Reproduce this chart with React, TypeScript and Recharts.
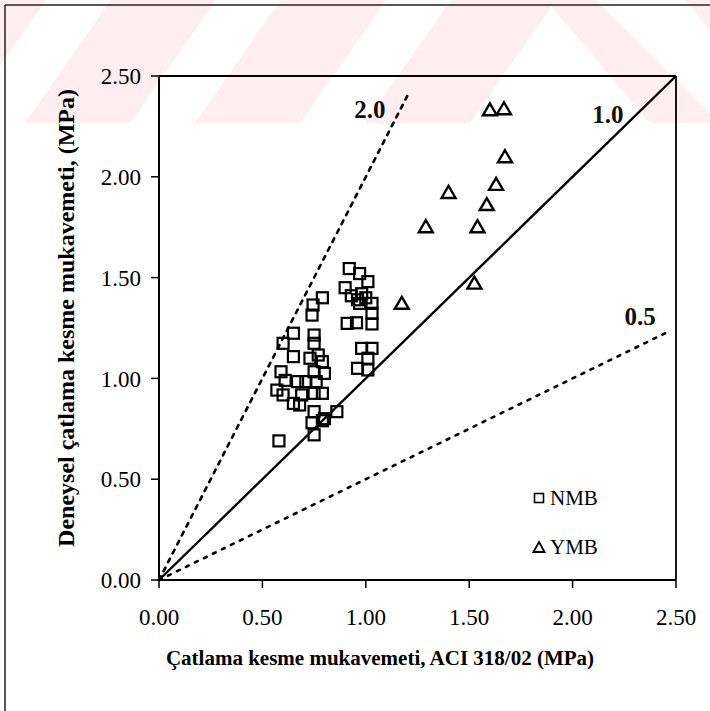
import React from 'react';
import { ScatterChart, Scatter, XAxis, YAxis, ReferenceLine } from 'recharts';

// ---- data ----
const axisTicks = [0, 0.5, 1, 1.5, 2, 2.5];

const nmbPoints = [
  { x: 0.58, y: 0.69 }, { x: 0.75, y: 0.72 }, { x: 0.74, y: 0.78 }, { x: 0.79, y: 0.79 },
  { x: 0.8, y: 0.8 }, { x: 0.86, y: 0.835 }, { x: 0.75, y: 0.835 }, { x: 0.65, y: 0.876 },
  { x: 0.68, y: 0.868 }, { x: 0.57, y: 0.942 }, { x: 0.6, y: 0.918 }, { x: 0.69, y: 0.918 },
  { x: 0.75, y: 0.926 }, { x: 0.79, y: 0.926 }, { x: 0.61, y: 0.99 }, { x: 0.67, y: 0.984 },
  { x: 0.71, y: 0.984 }, { x: 0.76, y: 0.984 }, { x: 0.59, y: 1.033 }, { x: 0.75, y: 1.033 },
  { x: 0.8, y: 1.025 }, { x: 0.96, y: 1.05 }, { x: 1.01, y: 1.042 }, { x: 0.65, y: 1.108 },
  { x: 0.73, y: 1.1 }, { x: 0.77, y: 1.116 }, { x: 0.79, y: 1.083 }, { x: 1.01, y: 1.1 },
  { x: 0.98, y: 1.149 }, { x: 1.03, y: 1.149 }, { x: 0.6, y: 1.174 }, { x: 0.75, y: 1.174 },
  { x: 0.65, y: 1.224 }, { x: 0.75, y: 1.215 }, { x: 0.91, y: 1.273 }, { x: 0.955, y: 1.276 },
  { x: 1.03, y: 1.27 }, { x: 0.74, y: 1.314 }, { x: 0.745, y: 1.364 }, { x: 0.97, y: 1.372 },
  { x: 1.03, y: 1.372 }, { x: 1.03, y: 1.323 }, { x: 0.79, y: 1.4 }, { x: 0.92, y: 1.545 },
  { x: 0.97, y: 1.52 }, { x: 0.9, y: 1.45 }, { x: 1.01, y: 1.48 }, { x: 0.93, y: 1.41 },
  { x: 0.96, y: 1.39 }, { x: 1.0, y: 1.4 }, { x: 0.98, y: 1.42 },
];

const ymbPoints = [
  { x: 1.6, y: 2.33 }, { x: 1.668, y: 2.335 }, { x: 1.673, y: 2.097 }, { x: 1.63, y: 1.96 },
  { x: 1.4, y: 1.92 }, { x: 1.585, y: 1.86 }, { x: 1.29, y: 1.75 }, { x: 1.54, y: 1.75 },
  { x: 1.525, y: 1.47 }, { x: 1.174, y: 1.37 },
];

const ratioLines = [
  { ratio: 2.0, endX: 1.2, dash: '4 6' },
  { ratio: 1.0, endX: 2.5, dash: undefined },
  { ratio: 0.5, endX: 2.45, dash: '3 7' },
];

const lineLabels = [
  { x: 1.02, y: 2.336, text: '2.0' },
  { x: 2.17, y: 2.31, text: '1.0' },
  { x: 2.326, y: 1.305, text: '0.5' },
];

const legendItems = ['NMB', 'YMB'];

const xTitle = 'Çatlama kesme mukavemeti, ACI 318/02 (MPa)';
const yTitle = 'Deneysel çatlama kesme mukavemeti, (MPa)';

// ---- styles ----
const FONT = "'Liberation Serif', 'Times New Roman', serif";

const SquareShape = (props: any) => {
  const { cx, cy } = props;
  if (cx == null || cy == null) return null;
  return <rect x={cx - 5.5} y={cy - 5.5} width={11} height={11} fill="none" stroke="#000" strokeWidth={2.2} />;
};

const TriangleShape = (props: any) => {
  const { cx, cy } = props;
  if (cx == null || cy == null) return null;
  return (
    <polygon
      points={`${cx},${cy - 7} ${cx + 7},${cy + 5} ${cx - 7},${cy + 5}`}
      fill="none"
      stroke="#000"
      strokeWidth={2.4}
    />
  );
};

const LabelShape = (props: any) => {
  const { cx, cy, payload } = props;
  if (cx == null || cy == null) return null;
  return (
    <text x={cx} y={cy} textAnchor="middle" dominantBaseline="central" fontFamily={FONT} fontWeight="bold" fontSize={25} fill="#111">
      {payload.text}
    </text>
  );
};

const LegendMarker = ({ kind }: { kind: number }) => (
  <svg width={14} height={14} style={{ marginRight: 4 }}>
    {kind === 0 ? (
      <rect x={2.5} y={2.5} width={9} height={9} fill="none" stroke="#000" strokeWidth={1.6} />
    ) : (
      <polygon points="7,2 12.5,12 1.5,12" fill="none" stroke="#000" strokeWidth={1.8} />
    )}
  </svg>
);

const ChartLegend = () => (
  <div style={{ position: 'absolute', left: 532, top: 485, fontFamily: FONT, fontSize: 21, color: '#000' }}>
    {legendItems.map((name, i) => (
      <div key={name} style={{ display: 'flex', alignItems: 'center', height: 26, marginBottom: i === 0 ? 23 : 0 }}>
        <LegendMarker kind={i} />
        <span>{name}</span>
      </div>
    ))}
  </div>
);

const Watermark = () => {
  const pink = '#feeef2';
  const starts = [-145, 25, 195, 365];
  return (
    <svg width={710} height={711} style={{ position: 'absolute', left: 0, top: 0 }}>
      {starts.map((s, i) => (
        <polygon key={i} points={`${s + 86},0 ${s + 191},0 ${s + 105},123 ${s},123`} fill={pink} />
      ))}
      <polygon points="546,0 596,0 720,123 650,123" fill={pink} />
      <polygon points="685,0 710,0 710,30" fill={pink} />
      <line x1={5} y1={5} x2={710} y2={5} stroke="#222" strokeWidth={1.5} />
      <line x1={5} y1={5} x2={5} y2={711} stroke="#222" strokeWidth={1.5} />
    </svg>
  );
};

export default function App() {
  return (
    <div style={{ position: 'fixed', left: 0, top: 0, width: 710, height: 711, background: '#fff', overflow: 'hidden' }}>
      <Watermark />
      <div style={{ position: 'absolute', left: 0, top: 0 }}>
        <ScatterChart width={710} height={711} margin={{ top: 76, right: 34, bottom: 51, left: 59 }}>
          <XAxis
            type="number"
            dataKey="x"
            domain={[0, 2.5]}
            ticks={axisTicks}
            interval={0}
            allowDataOverflow
            height={80}
            tickFormatter={(v: number) => v.toFixed(2)}
            tick={{ fill: '#000', fontSize: 23, fontFamily: FONT }}
            tickSize={8}
            tickMargin={21}
            axisLine={{ stroke: '#000', strokeWidth: 2 }}
            tickLine={{ stroke: '#000', strokeWidth: 1.5 }}
            label={{
              content: () => (
                <text x={380} y={658} textAnchor="middle" dominantBaseline="central" fontFamily={FONT} fontWeight="bold" fontSize={21} fill="#000">
                  {xTitle}
                </text>
              ),
            }}
          />
          <YAxis
            type="number"
            dataKey="y"
            domain={[0, 2.5]}
            ticks={axisTicks}
            interval={0}
            allowDataOverflow
            width={100}
            tickFormatter={(v: number) => v.toFixed(2)}
            tick={{ fill: '#000', fontSize: 23, fontFamily: FONT }}
            tickSize={8}
            tickMargin={10}
            axisLine={{ stroke: '#000', strokeWidth: 2 }}
            tickLine={{ stroke: '#000', strokeWidth: 1.5 }}
            label={{
              content: () => (
                <text
                  x={66}
                  y={318}
                  transform="rotate(-90 66 318)"
                  textAnchor="middle"
                  dominantBaseline="central"
                  fontFamily={FONT}
                  fontWeight="bold"
                  fontSize={24}
                  fill="#000"
                >
                  {yTitle}
                </text>
              ),
            }}
          />
          <ReferenceLine y={2.5} stroke="#000" strokeWidth={1.8} />
          <ReferenceLine x={2.5} stroke="#000" strokeWidth={1.8} />
          {ratioLines.map((l) => (
            <ReferenceLine
              key={l.ratio}
              segment={[{ x: 0, y: 0 }, { x: l.endX, y: l.endX * l.ratio }]}
              stroke="#000"
              strokeWidth={l.dash ? 2.6 : 2.4}
              strokeDasharray={l.dash}
              strokeLinecap={l.dash ? 'round' : 'butt'}
            />
          ))}
          <Scatter name="NMB" data={nmbPoints} shape={SquareShape} isAnimationActive={false} />
          <Scatter name="YMB" data={ymbPoints} shape={TriangleShape} isAnimationActive={false} />
          <Scatter name="labels" data={lineLabels} shape={LabelShape} legendType="none" isAnimationActive={false} />
        </ScatterChart>
      </div>
      <ChartLegend />
    </div>
  );
}
